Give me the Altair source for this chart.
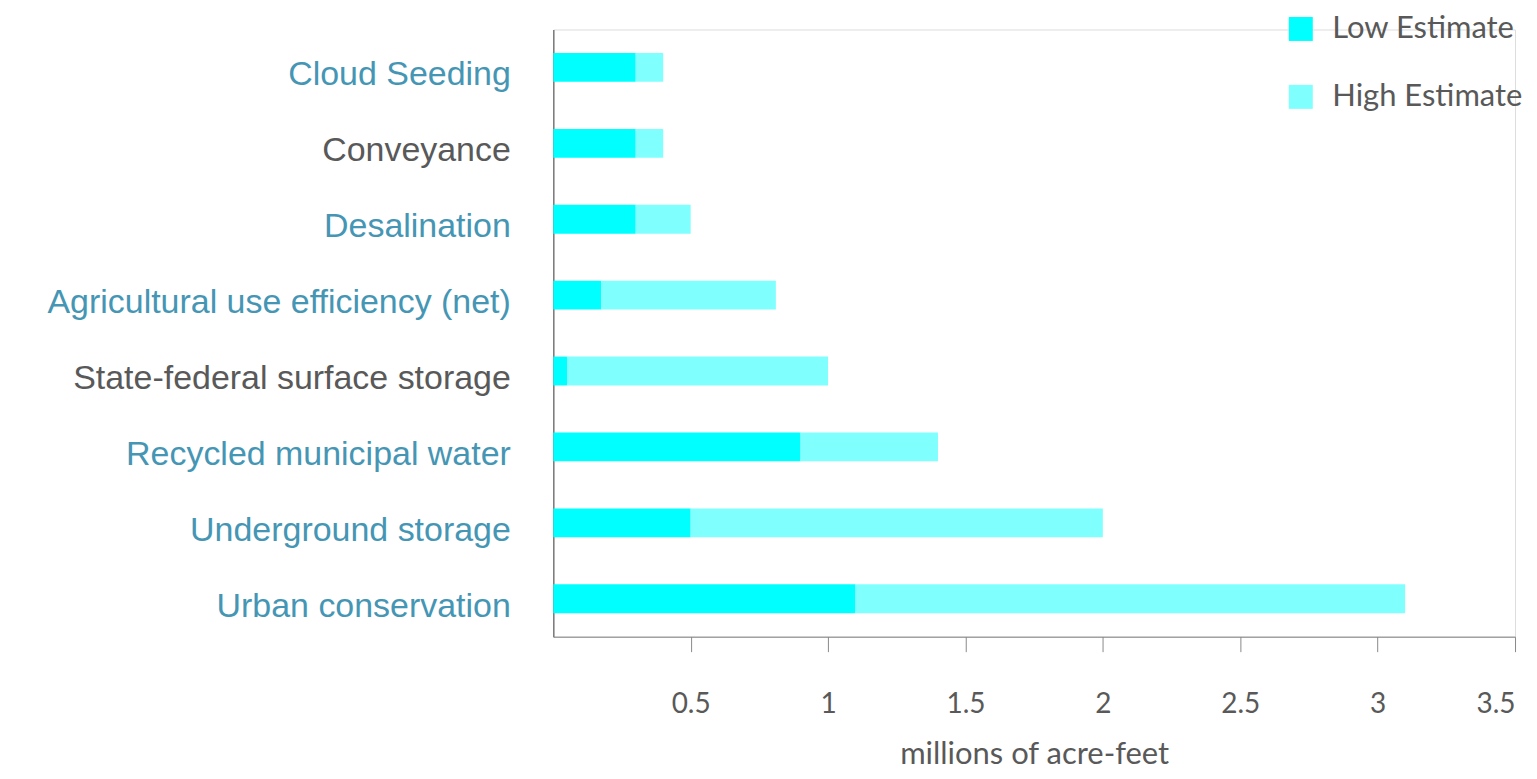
import altair as alt
import pandas as pd
import json

categories = [
    "Cloud Seeding",
    "Conveyance",
    "Desalination",
    "Agricultural use efficiency (net)",
    "State-federal surface storage",
    "Recycled municipal water",
    "Underground storage",
    "Urban conservation",
]
low_estimate = [0.30, 0.30, 0.30, 0.175, 0.05, 0.90, 0.50, 1.10]
high_estimate = [0.40, 0.40, 0.50, 0.81, 1.00, 1.40, 2.00, 3.10]
gray_labels = ["Conveyance", "State-federal surface storage"]
x_ticks = [0.5, 1, 1.5, 2, 2.5, 3, 3.5]
series_names = ["Low Estimate", "High Estimate"]
series_colors = ["#00ffff", "#80ffff"]

rows = []
for c, lo, hi in zip(categories, low_estimate, high_estimate):
    rows.append({"category": c, "series": "Low Estimate", "start": 0.0, "end": lo})
    rows.append({"category": c, "series": "High Estimate", "start": lo, "end": hi})
df = pd.DataFrame(rows)

label_color_expr = (
    "indexof(" + json.dumps(gray_labels) + ", datum.value) >= 0 ? '#595959' : '#4596b4'"
)

chart = (
    alt.Chart(df)
    .mark_bar()
    .encode(
        y=alt.Y(
            "category:N",
            sort=categories,
            scale=alt.Scale(paddingInner=0.62, paddingOuter=0.31),
            axis=alt.Axis(
                title=None,
                ticks=False,
                domainColor="#7a7a7a",
                domainWidth=1.5,
                labelFont="Liberation Sans",
                labelFontSize=34,
                labelColor=alt.ExprRef(label_color_expr),
                labelPadding=43,
                labelOffset=8,
                labelBaseline="middle",
                labelLimit=600,
            ),
        ),
        x=alt.X(
            "start:Q",
            scale=alt.Scale(domain=[0, 3.5], nice=False),
            axis=alt.Axis(
                title="millions of acre-feet",
                values=x_ticks,
                format="~g",
                grid=False,
                domainColor="#7f7f7f",
                domainWidth=1,
                tickColor="#8a8a8a",
                tickSize=15,
                tickWidth=1,
                labelFont="Lato",
                labelFontSize=28,
                labelColor="#595959",
                labelBaseline="middle",
                labelPadding=53,
                titleFont="Lato",
                titleFontSize=31,
                titleFontWeight="normal",
                titleColor="#595959",
                titleBaseline="alphabetic",
                titleY=127,
            ),
        ),
        x2="end:Q",
        color=alt.Color(
            "series:N",
            scale=alt.Scale(domain=series_names, range=series_colors),
            legend=alt.Legend(
                title=None,
                orient="none",
                legendX=733,
                legendY=-16,
                padding=0,
                symbolType="square",
                symbolSize=576,
                symbolStrokeWidth=0,
                labelFont="Lato",
                labelFontSize=31,
                labelColor="#595959",
                labelOffset=16,
                rowPadding=36,
                labelLimit=300,
            ),
        ),
        order=alt.Order("series:N", sort="descending"),
    )
    .properties(
        width=963,
        height=608,
        autosize=alt.AutoSizeParams(type="none"),
        padding={"left": 546, "top": 21, "right": 14, "bottom": 134},
    )
    .configure_view(stroke=None)
    .configure(background="white")
)

chart.save("out.html", embed_options={"renderer": "svg", "actions": False})
